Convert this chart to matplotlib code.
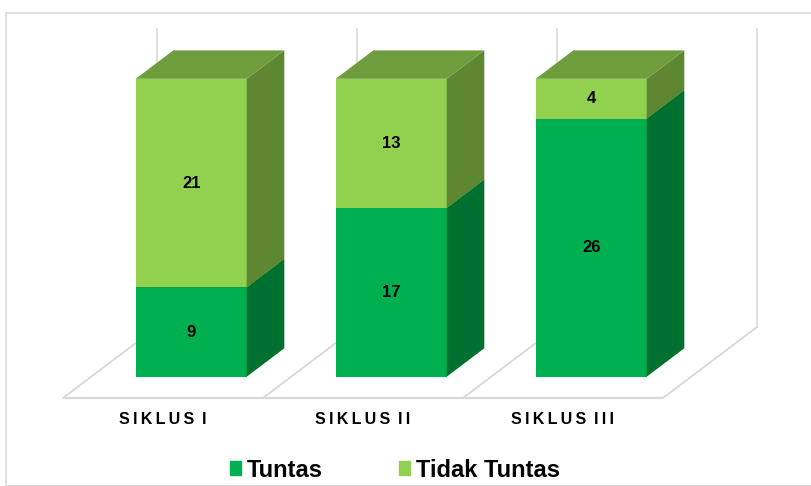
import matplotlib
matplotlib.use("Agg")
import matplotlib.pyplot as plt
from matplotlib.patches import Rectangle, Patch
import numpy as np

categories = ["SIKLUS I", "SIKLUS II", "SIKLUS III"]
tuntas = [9, 17, 26]
tidak_tuntas = [21, 13, 4]
series_names = ["Tuntas", "Tidak Tuntas"]
axis_max = 30

# colours (front, side, top)
col_tuntas = ("#00B050", "#00702F", "#00963F")
col_tidak = ("#92D050", "#5E8731", "#6F9C3C")

W, H = 811, 486
fig = plt.figure(figsize=(W / 100, H / 100), dpi=100)

# pixel geometry of the pseudo-3D plot
X0_PX, CAT_PX, FLOOR_Y_PX, PX_PER_UNIT = 63, 200, 398, 9.93
DEPTH_DX = 94 / CAT_PX          # category units per full depth
DEPTH_DY = 71 / PX_PER_UNIT     # value units per full depth

ax = fig.add_axes([0, 0, 1, 1])
ax.set_xlim((0 - X0_PX) / CAT_PX, (W - X0_PX) / CAT_PX)
ax.set_ylim((FLOOR_Y_PX - H) / PX_PER_UNIT, FLOOR_Y_PX / PX_PER_UNIT)
ax.axis("off")

def proj(u, v, d):
    return u + d * DEPTH_DX, v + d * DEPTH_DY

grid_c = "#D9D9D9"
n = len(categories)
# floor
fx, fy = zip(proj(0, 0, 0), proj(n, 0, 0))
ax.plot(fx, fy, color=grid_c, lw=1.6, zorder=1, solid_capstyle="butt")
for i in range(n + 1):
    p0 = proj(i, 0, 0)
    p1 = proj(i, 0, 1)
    ax.plot([p0[0], p1[0]], [p0[1], p1[1]], color=grid_c, lw=1.4, zorder=1)
    # back wall gridlines
    q1 = proj(i, axis_max, 1)
    ax.plot([p1[0], q1[0]], [p1[1], q1[1]], color=grid_c, lw=1.2, zorder=1)

bar_w = 0.555
d0, d1 = 0.3, 0.7
centers = np.arange(n) + 0.5

def draw_segment(c, bottom, h, cols, z):
    front, side, top = cols
    xl = c - bar_w / 2
    xr = c + bar_w / 2
    fxl, fyb = proj(xl, bottom, d0)
    ax.bar(fxl, h, width=bar_w, bottom=fyb, align="edge", color=front,
           linewidth=0, zorder=z)
    # side face
    pts = [proj(xr, bottom, d0), proj(xr, bottom, d1),
           proj(xr, bottom + h, d1), proj(xr, bottom + h, d0)]
    ax.fill([p[0] for p in pts], [p[1] for p in pts], color=side, lw=0, zorder=z)
    # top face
    pts = [proj(xl, bottom + h, d0), proj(xr, bottom + h, d0),
           proj(xr, bottom + h, d1), proj(xl, bottom + h, d1)]
    ax.fill([p[0] for p in pts], [p[1] for p in pts], color=top, lw=0, zorder=z)

for i, c in enumerate(centers):
    draw_segment(c, 0, tuntas[i], col_tuntas, 3)
    draw_segment(c, tuntas[i], tidak_tuntas[i], col_tidak, 4)
    for b, h in [(0, tuntas[i]), (tuntas[i], tidak_tuntas[i])]:
        tx, ty = proj(c, b + h / 2, d0)
        ax.text(tx, ty, str(h), ha="center", va="center", fontsize=12,
                fontweight="bold", color="black", zorder=6,
                family=["Liberation Sans", "DejaVu Sans"])

# category labels (letter-spaced)
TS = "\u2009"
for i, c in enumerate(categories):
    word, num = c.split(" ")
    lab = TS.join(word) + " " + TS + TS.join(num)
    ax.text(i + 0.5, (FLOOR_Y_PX - 419) / PX_PER_UNIT, lab, ha="center",
            va="center", fontsize=11.5, fontweight="bold", color="black",
            family=["Liberation Sans", "DejaVu Sans"])

# outer frame
fig.patches.append(Rectangle((6 / W, 0), 2, 1 - 13 / H, transform=fig.transFigure,
                             fill=False, edgecolor="#D9D9D9", lw=1.2))

handles = [Patch(color=col_tuntas[0]), Patch(color=col_tidak[0])]
leg = fig.legend(handles, series_names, loc="center", ncol=2,
                 bbox_to_anchor=(395 / W, 1 - 470 / H), frameon=False,
                 handlelength=0.48, handleheight=0.55, handletextpad=0.25,
                 columnspacing=3.2,
                 prop={"family": ["Liberation Sans Narrow", "Liberation Sans"],
                       "weight": "bold", "size": 17})

fig.savefig("out.png", dpi=100)
